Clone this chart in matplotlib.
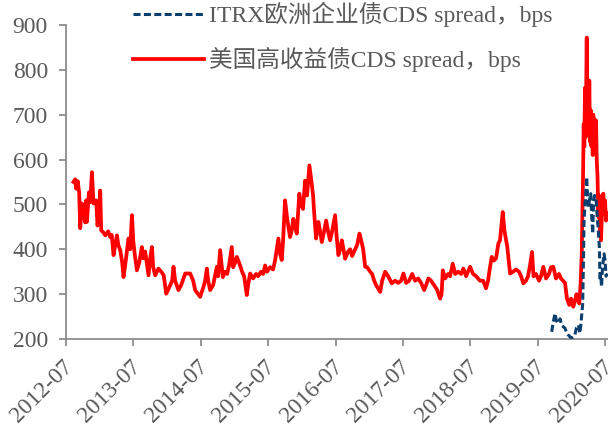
import datetime as dt
import matplotlib
matplotlib.use("Agg")
import matplotlib.pyplot as plt
import matplotlib.dates as mdates
import matplotlib.transforms as mtransforms

plt.rcParams['font.family'] = ['Liberation Serif', 'Noto Sans CJK SC', 'DejaVu Sans']

# Series labels
label_itrx = "ITRX欧洲企业债CDS spread，bps"
label_us_hy = "美国高收益债CDS spread，bps"

# US high-yield CDS spread (bps); time given in decimal years
hy_t = [
    2012.608, 2012.634, 2012.648, 2012.671, 2012.693, 2012.708, 2012.733, 2012.752, 2012.767, 2012.782,
    2012.797, 2012.807, 2012.837, 2012.856, 2012.881, 2012.905, 2012.945, 2012.964, 2012.990, 2013.004,
    2013.019, 2013.049, 2013.079, 2013.123, 2013.153, 2013.175, 2013.202, 2013.227, 2013.252, 2013.272,
    2013.301, 2013.331, 2013.350, 2013.375, 2013.424, 2013.450, 2013.475, 2013.494, 2013.516, 2013.549,
    2013.583, 2013.623, 2013.642, 2013.672, 2013.721, 2013.746, 2013.772, 2013.791, 2013.820, 2013.869,
    2013.910, 2013.947, 2013.984, 2014.013, 2014.043, 2014.073, 2014.092, 2014.117, 2014.166, 2014.206,
    2014.266, 2014.315, 2014.340, 2014.384, 2014.414, 2014.458, 2014.488, 2014.537, 2014.562, 2014.588,
    2014.607, 2014.636, 2014.681, 2014.736, 2014.755, 2014.785, 2014.825, 2014.859, 2014.889, 2014.918,
    2014.958, 2014.978, 2015.007, 2015.033, 2015.067, 2015.111, 2015.141, 2015.181, 2015.200, 2015.230,
    2015.274, 2015.319, 2015.349, 2015.393, 2015.423, 2015.453, 2015.482, 2015.527, 2015.571, 2015.601,
    2015.650, 2015.675, 2015.700, 2015.720, 2015.749, 2015.779, 2015.823, 2015.846, 2015.872, 2015.898,
    2015.923, 2015.942, 2015.961, 2015.987, 2016.016, 2016.046, 2016.076, 2016.110, 2016.145, 2016.165,
    2016.180, 2016.209, 2016.243, 2016.269, 2016.294, 2016.328, 2016.358, 2016.387, 2016.417, 2016.447,
    2016.491, 2016.513, 2016.540, 2016.565, 2016.591, 2016.640, 2016.684, 2016.714, 2016.743, 2016.788,
    2016.818, 2016.852, 2016.877, 2016.907, 2016.936, 2016.966, 2017.010, 2017.040, 2017.070, 2017.099,
    2017.159, 2017.188, 2017.233, 2017.277, 2017.332, 2017.381, 2017.426, 2017.470, 2017.504, 2017.545,
    2017.589, 2017.634, 2017.678, 2017.723, 2017.767, 2017.812, 2017.841, 2017.875, 2017.915, 2017.960,
    2018.004, 2018.049, 2018.071, 2018.089, 2018.123, 2018.168, 2018.197, 2018.237, 2018.272, 2018.316,
    2018.361, 2018.395, 2018.435, 2018.494, 2018.539, 2018.583, 2018.642, 2018.687, 2018.731, 2018.761,
    2018.791, 2018.816, 2018.850, 2018.880, 2018.914, 2018.939, 2018.979, 2019.006, 2019.047, 2019.088,
    2019.132, 2019.177, 2019.221, 2019.251, 2019.285, 2019.325, 2019.355, 2019.384, 2019.414, 2019.436,
    2019.473, 2019.518, 2019.547, 2019.582, 2019.622, 2019.666, 2019.696, 2019.730, 2019.770, 2019.815,
    2019.844, 2019.874, 2019.904, 2019.933, 2019.967, 2019.993, 2020.027, 2020.052, 2020.074, 2020.116,
    2020.134, 2020.151, 2020.171, 2020.181, 2020.190, 2020.200, 2020.211, 2020.226, 2020.234, 2020.245,
    2020.255, 2020.264, 2020.275, 2020.285, 2020.294, 2020.304, 2020.315, 2020.323, 2020.334, 2020.344,
    2020.353, 2020.364, 2020.374, 2020.386, 2020.398, 2020.408, 2020.423, 2020.438, 2020.460, 2020.472,
    2020.482, 2020.497, 2020.512, 2020.531,
]
hy_v = [
    550, 556, 535, 552, 525, 447, 502, 470, 480, 460,
    509, 461, 527, 505, 572, 502, 509, 453, 490, 531,
    442, 438, 431, 440, 427, 432, 387, 410, 431, 410,
    398, 370, 338, 365, 424, 400, 476, 420, 390, 353,
    370, 405, 380, 395, 342, 380, 405, 360, 342, 357,
    350, 342, 301, 310, 320, 330, 361, 330, 309, 320,
    346, 346, 346, 330, 309, 300, 294, 316, 330, 357,
    330, 309, 320, 361, 340, 398, 338, 350, 345, 365,
    405, 360, 370, 383, 370, 350, 340, 298, 320, 346,
    335, 345, 340, 350, 345, 364, 350, 360, 355, 375,
    424, 390, 376, 420, 509, 470, 427, 440, 468, 450,
    435, 480, 524, 500, 490, 553, 520, 587, 546, 520,
    483, 424, 461, 440, 416, 440, 464, 440, 420, 440,
    476, 430, 387, 400, 420, 379, 395, 400, 385, 400,
    410, 435, 420, 400, 361, 360, 350, 345, 330, 320,
    305, 330, 350, 340, 324, 330, 325, 330, 346, 325,
    330, 345, 330, 335, 325, 309, 320, 335, 330, 320,
    310, 290, 300, 353, 335, 345, 340, 368, 345, 350,
    345, 357, 340, 361, 345, 340, 330, 330, 313, 330,
    361, 383, 375, 380, 413, 420, 483, 440, 405, 346,
    350, 355, 350, 340, 324, 330, 340, 364, 394, 340,
    345, 330, 340, 361, 335, 345, 360, 361, 335, 345,
    335, 330, 325, 290, 276, 290, 272, 285, 300, 279,
    320, 383, 560, 679, 630, 760, 650, 872, 700, 770,
    660, 776, 640, 710, 630, 690, 610, 700, 640, 690,
    640, 687, 600, 560, 472, 520, 435, 420, 520, 524,
    480, 509, 464, 480,
]

# iTraxx Europe corporate CDS spread (bps)
itrx_t = [
    2019.706, 2019.726, 2019.755, 2019.778, 2019.804, 2019.830, 2019.859, 2019.904, 2019.926, 2019.953,
    2019.978, 2020.003, 2020.030, 2020.052, 2020.074, 2020.101, 2020.126, 2020.144, 2020.166, 2020.178,
    2020.186, 2020.200, 2020.226, 2020.237, 2020.249, 2020.267, 2020.285, 2020.297, 2020.315, 2020.326,
    2020.341, 2020.364, 2020.378, 2020.393, 2020.413, 2020.423, 2020.433, 2020.445, 2020.460, 2020.472,
    2020.482, 2020.497, 2020.512, 2020.531,
]
itrx_v = [
    216, 235, 257, 240, 235, 245, 230, 224, 215, 209,
    205, 202, 205, 210, 225, 231, 213, 240, 279, 380,
    464, 500, 561, 520, 494, 510, 524, 480, 435, 500,
    520, 516, 480, 450, 405, 330, 346, 316, 360, 376,
    390, 376, 340, 346,
]

y_ticks = [200, 300, 400, 500, 600, 700, 800, 900]
x_tick_years = [2012, 2013, 2014, 2015, 2016, 2017, 2018, 2019, 2020]


def to_date(t):
    year = int(t)
    start = dt.datetime(year, 1, 1)
    end = dt.datetime(year + 1, 1, 1)
    return start + (end - start) * (t - year)


hy_dates = [to_date(t) for t in hy_t]
itrx_dates = [to_date(t) for t in itrx_t]

GREY = '#595959'
SPINE = '#8c8c8c'
FS = 17

fig = plt.figure(figsize=(6.08, 4.28), dpi=100)
ax = fig.add_axes([66 / 608, 1 - 339 / 428, (608 - 66) / 608, (339 - 25) / 428])

line_hy, = ax.plot(hy_dates, hy_v, color='#FF0000', lw=2.7, solid_joinstyle='round', zorder=2)
line_itrx, = ax.plot(itrx_dates, itrx_v, color='#0B3F6E', lw=2.2, linestyle=(0, (2.3, 1.1)), zorder=3)

ax.set_ylim(200, 900)
ax.set_yticks(y_ticks)
ax.set_xlim(dt.datetime(2012, 7, 1), to_date(2020.541))
ax.set_xticks([dt.datetime(y, 7, 1) for y in x_tick_years])
ax.xaxis.set_major_formatter(mdates.DateFormatter('%Y-%m'))

for s in ['top', 'right']:
    ax.spines[s].set_visible(False)
for s in ['left', 'bottom']:
    ax.spines[s].set_color(SPINE)
    ax.spines[s].set_linewidth(1.3)

ax.tick_params(axis='both', direction='out', length=5, width=1.3, color=SPINE,
               labelcolor=GREY, labelsize=FS)
ax.tick_params(axis='y', pad=8)
ax.tick_params(axis='x', pad=13)
shift = mtransforms.ScaledTranslation(4 / 100, 0, fig.dpi_scale_trans)
for lbl in ax.get_xticklabels():
    lbl.set_rotation(45)
    lbl.set_ha('right')
    lbl.set_va('center')
    lbl.set_rotation_mode('anchor')
    lbl.set_transform(lbl.get_transform() + shift)

leg = fig.legend([line_itrx, line_hy], [label_itrx, label_us_hy],
                 loc='upper left', bbox_to_anchor=(133 / 608, 1 - 2 / 428),
                 frameon=False, fontsize=FS, handlelength=3.0, handletextpad=0.2,
                 labelspacing=0.85, borderpad=0, borderaxespad=0)
for txt in leg.get_texts():
    txt.set_color(GREY)

fig.savefig('out.png', dpi=100)
